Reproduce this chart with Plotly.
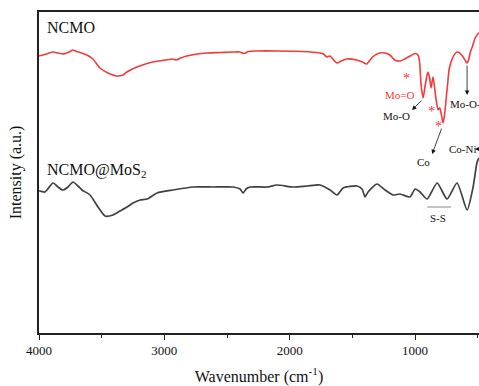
import plotly.graph_objects as go

# FTIR spectra (transmittance, arbitrary units, offset for display)
wn_ncmo = [4000, 3940, 3888, 3850, 3809, 3760, 3729, 3700, 3660, 3618, 3570, 3514,
           3450, 3378, 3330, 3299, 3219, 3150, 3092, 2990, 2932, 2905, 2870, 2821,
           2740, 2661, 2550, 2454, 2398, 2362, 2330, 2263, 2080, 1900, 1761, 1730,
           1705, 1680, 1625, 1590, 1546, 1466, 1420, 1386, 1339, 1283, 1240, 1200,
           1163, 1120, 1084, 1040, 1000, 976, 964, 952, 936, 920, 904, 896, 884,
           872, 862, 856, 844, 832, 816, 806, 800, 788, 777, 765, 753, 741, 729,
           713, 697, 677, 657, 637, 617, 597, 585, 573, 561, 541, 521, 500, 489]
int_ncmo = [277, 279, 281, 280, 279, 281, 283, 281.5, 280, 278, 274, 265,
            260, 257, 258, 261, 266, 269, 271, 273, 274, 273, 275, 277,
            279, 280, 280.5, 281, 281, 279.5, 281.5, 282, 282, 281.5, 280, 279,
            276, 277, 270, 272, 274, 273, 271, 269, 276, 280, 280, 278,
            273, 272, 274, 277, 279.5, 278, 271, 248, 235, 247, 258, 261, 255,
            245, 253, 256, 245, 233, 223, 225, 224, 217, 210, 218, 233, 248, 263,
            271, 276, 280, 281, 279, 276, 272, 270, 273, 280, 287, 295, 299, 300]

wn_mos2 = [4000, 3992, 3952, 3888, 3848, 3809, 3769, 3729, 3689, 3657, 3593, 3529,
           3473, 3410, 3354, 3298, 3250, 3194, 3138, 3058, 2931, 2771, 2612, 2452,
           2396, 2372, 2348, 2316, 2181, 2101, 1973, 1862, 1758, 1678, 1622, 1574,
           1463, 1423, 1399, 1375, 1303, 1239, 1175, 1120, 1040, 1000, 960, 904,
           824, 745, 665, 585, 537, 505, 489]
int_mos2 = [142, 142, 141, 150, 146, 143, 146, 151, 147, 143, 138, 126,
            117, 118, 122, 126, 130, 133, 134, 140, 143, 146, 146, 146,
            144, 140, 144, 146, 146, 148, 146, 147, 148, 143, 138, 145,
            147, 144, 136, 141, 149, 143, 138, 139, 136, 144, 141, 134,
            150, 134, 150, 123, 146, 171, 175]

RED = "#f23a3a"
DARK = "#404040"
FONT = "Liberation Serif"

fig = go.Figure()
fig.add_trace(go.Scatter(x=wn_ncmo, y=int_ncmo, mode="lines", name="NCMO",
                         line=dict(color=RED, width=1.6, shape="spline", smoothing=0.6)))
fig.add_trace(go.Scatter(x=wn_mos2, y=int_mos2, mode="lines", name="NCMO@MoS2",
                         line=dict(color=DARK, width=1.7, shape="spline", smoothing=0.6)))

# Sample labels and band assignments
labels = [
    dict(x=3952, y=306, text="NCMO", font=dict(size=16, color="#111"), xanchor="left"),
    dict(x=3952, y=163, text="NCMO@MoS<sub>2</sub>", font=dict(size=16, color="#111"), xanchor="left"),
    dict(x=1128, y=238, text="Mo=O", font=dict(size=11, color=RED)),
    dict(x=1072, y=255, text="*", font=dict(size=14, color=RED)),
    dict(x=872, y=222, text="*", font=dict(size=14, color=RED)),
    dict(x=816, y=207, text="*", font=dict(size=14, color=RED)),
    dict(x=1152, y=217, text="Mo-O", font=dict(size=11, color="#111")),
    dict(x=936, y=171, text="Co", font=dict(size=11, color="#111")),
    dict(x=740, y=229, text="Mo-O-Co", font=dict(size=11, color="#111"), xanchor="left"),
    dict(x=748, y=184, text="Co-Ni", font=dict(size=11, color="#111"), xanchor="left"),
    dict(x=816, y=115, text="S-S", font=dict(size=11, color="#111")),
]
for lb in labels:
    fig.add_annotation(showarrow=False, xref="x", yref="y", font_family=FONT, **lb)

# Band assignment arrows: (tail_x, tail_y) -> (head_x, head_y)
arrows = [
    ((936, 234), (1024, 223)),
    ((784, 206), (864, 179)),
    ((585, 269), (585, 238)),
    ((402, 184), (521, 184)),
]
for (tx, ty), (hx, hy) in arrows:
    fig.add_annotation(x=hx, y=hy, ax=tx, ay=ty, xref="x", yref="y", axref="x", ayref="y",
                       text="", showarrow=True, arrowhead=2, arrowsize=1.1, arrowwidth=0.8,
                       arrowcolor="#111", standoff=0, startstandoff=0)

# S-S bracket line
fig.add_shape(type="line", x0=904, x1=713, y0=126, y1=126, xref="x", yref="y",
              line=dict(color="#888", width=1))

fig.update_layout(
    width=479, height=386,
    margin=dict(l=39, r=0, t=12, b=53),
    paper_bgcolor="white", plot_bgcolor="white",
    showlegend=False,
    font=dict(family=FONT, color="#111"),
    xaxis=dict(range=[4000, 490], showgrid=False, zeroline=False,
               showline=True, linecolor="#222", linewidth=1.6, mirror=True,
               tickmode="linear", tick0=0, dtick=1000, ticks="outside", ticklen=5,
               tickwidth=1.3, tickcolor="#222", tickfont=dict(size=13, family=FONT),
               minor=dict(dtick=500, tick0=0, ticks="outside", ticklen=3, tickwidth=1.3,
                          tickcolor="#222"),
               title=dict(text="Wavenumber (cm<sup>-1</sup>)", font=dict(size=16, family=FONT),
                          standoff=13)),
    yaxis=dict(range=[0, 321], showgrid=False, zeroline=False, showticklabels=False,
               ticks="", showline=True, linecolor="#222", linewidth=1.6, mirror=False,
               title=dict(text="Intensity (a.u.)", font=dict(size=16, family=FONT),
                          standoff=12)),
)

fig.write_html("out.html")
